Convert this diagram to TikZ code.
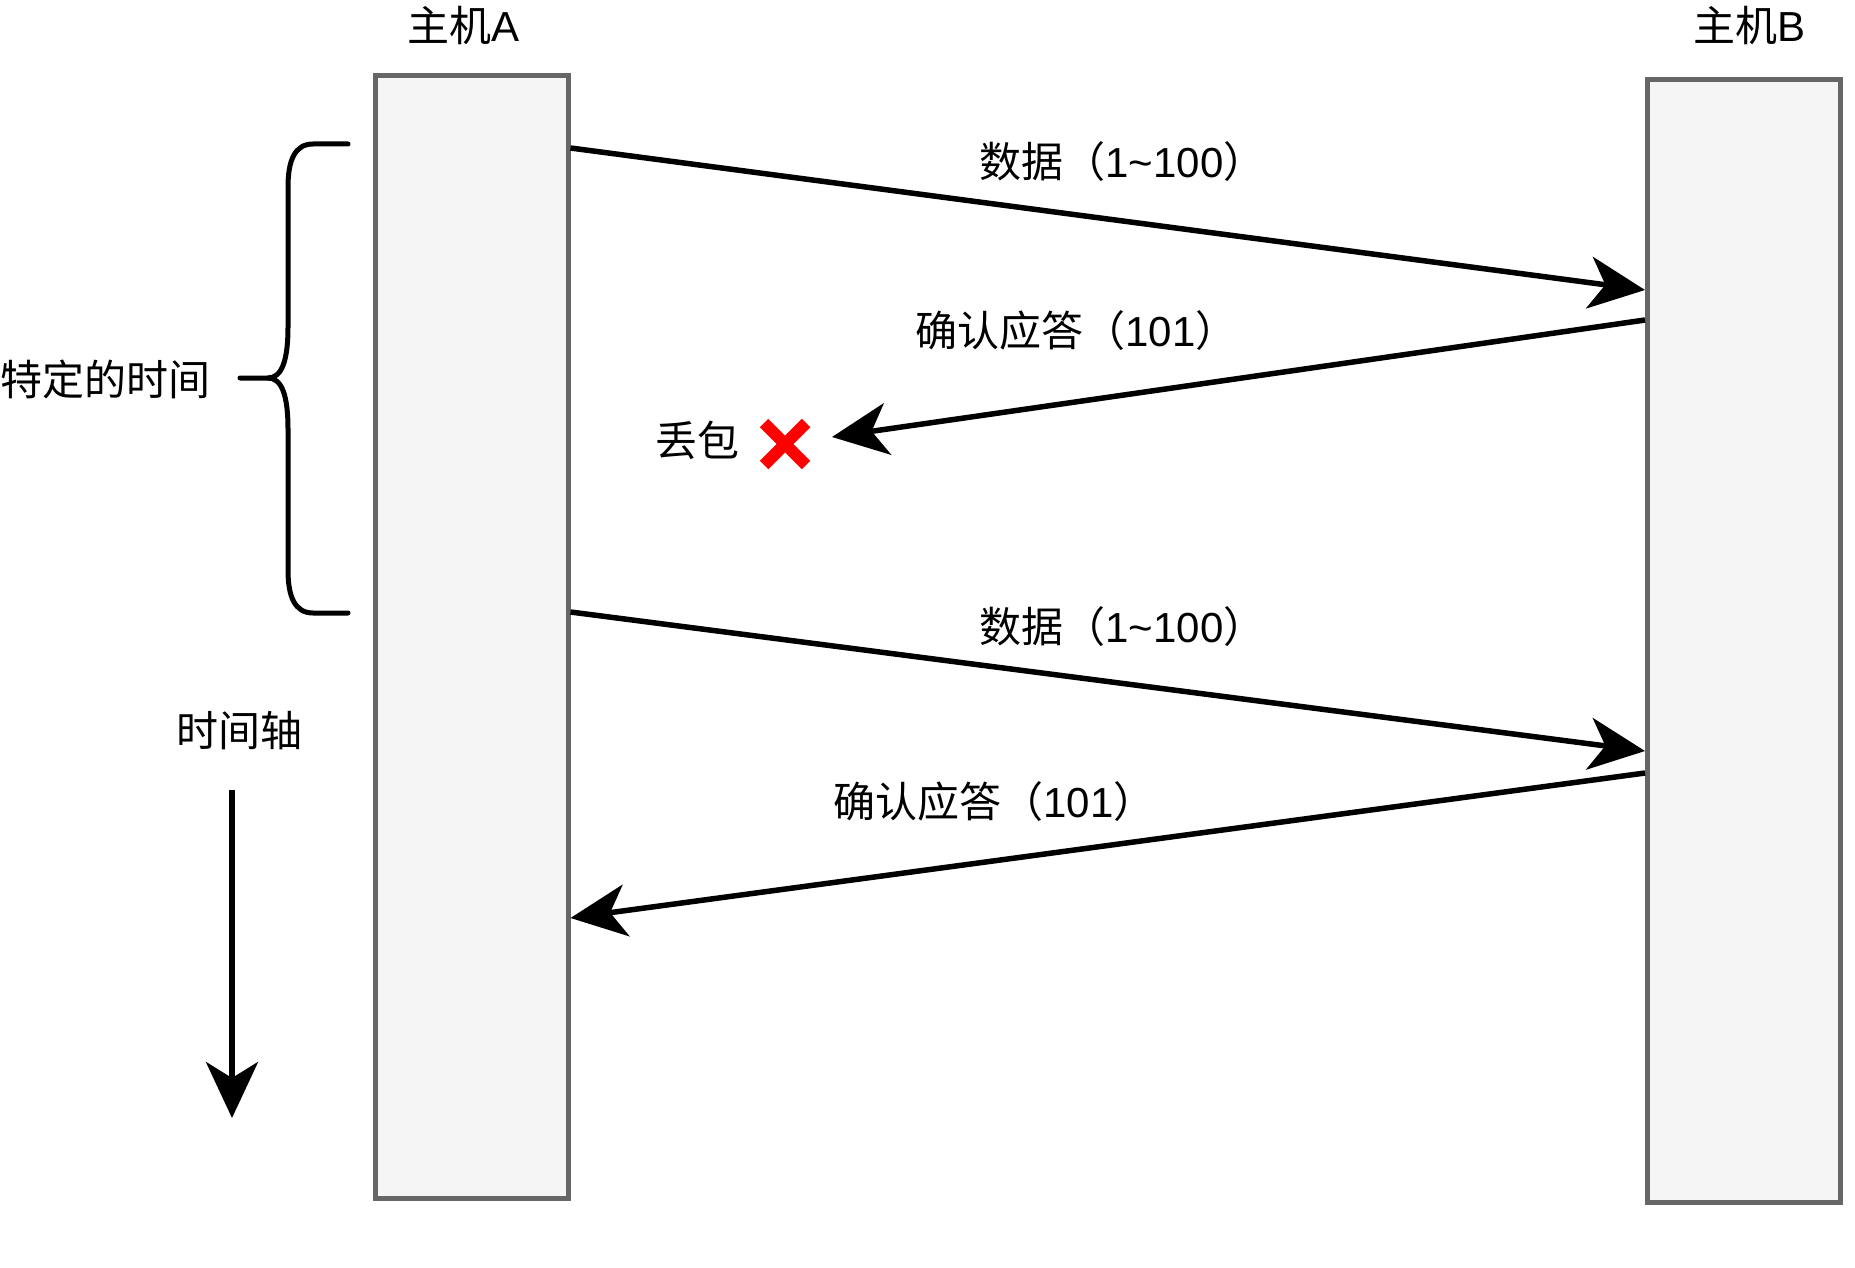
\documentclass[tikz,border=0pt]{standalone}
\usepackage{fontspec}
\setmainfont{Liberation Sans}
\newfontfamily\zhfont{Noto Sans CJK SC}
\usetikzlibrary{arrows.meta}

\definecolor{boxgray}{HTML}{666666}
\definecolor{boxfill}{HTML}{F5F5F5}
\newcommand{\zh}[1]{{\zhfont #1}}

\tikzset{
    host/.style={draw=boxgray,fill=boxfill,line width=2.5pt,inner sep=0pt,
        minimum width=96.5pt,minimum height=561pt},
    msg/.style={line width=2.75pt,-{Stealth[length=28pt,width=26pt,inset=8pt]}},
    lbl/.style={font=\fontsize{21pt}{25pt}\selectfont,inner sep=0pt,anchor=west},
}

\begin{document}
\begin{tikzpicture}[x=0.5pt,y=-0.5pt]
    \useasboundingbox (0,0) rectangle (1855,1267);

    \node[host] (hostA) at (471.5,637) {};
    \node[host] (hostB) at (1744,641) {};
    \node[lbl] (nameA) at (407,26) {\zh{主机}A};
    \node[lbl] (nameB) at (1693,26) {\zh{主机}B};

    \draw[msg] (hostA.east |- 0,148) -- (hostB.west |- 0,290);
    \node[lbl] (data1) at (979,162) {\zh{数据（}1\textasciitilde100\zh{）}};

    \draw[msg] (hostB.west |- 0,320) -- (832,437) coordinate (lostpt);
    \node[lbl] (ack1) at (915,331) {\zh{确认应答（}101\zh{）}};

    \node[lbl] (lost) at (655,440) {\zh{丢包}};
    \coordinate (cross) at (785,444);
    \draw[red,line width=6pt] (cross) ++(-21,-21) -- ++(42,42)
        (cross) ++(-21,21) -- ++(42,-42);

    \draw[msg] (hostA.east |- 0,612) -- (hostB.west |- 0,751);
    \node[lbl] (data2) at (979,627) {\zh{数据（}1\textasciitilde100\zh{）}};

    \draw[msg] (hostB.west |- 0,773) -- (hostA.east |- 0,918);
    \node[lbl] (ack2) at (833,802) {\zh{确认应答（}101\zh{）}};

    % brace for the timeout
    \draw[line width=2.5pt,line cap=round] (348,144) -- (313,144)
        .. controls (295,144) and (288,160) .. (288,187) -- (288,327)
        .. controls (288,360) and (282,378) .. (268,378) -- (240,378);
    \draw[line width=2.5pt,line cap=round] (268,378)
        .. controls (282,378) and (288,396) .. (288,429) -- (288,570)
        .. controls (288,597) and (295,613) .. (313,613) -- (348,613);
    \node[lbl] (timeout) at (0,379) {\zh{特定的时间}};

    \node[lbl] (axis) at (176,731) {\zh{时间轴}};
    \coordinate (axtop) at (232,790);
    \coordinate (axend) at (232,1118);
    \draw[msg] (axtop) -- (axend);
\end{tikzpicture}
\end{document}
